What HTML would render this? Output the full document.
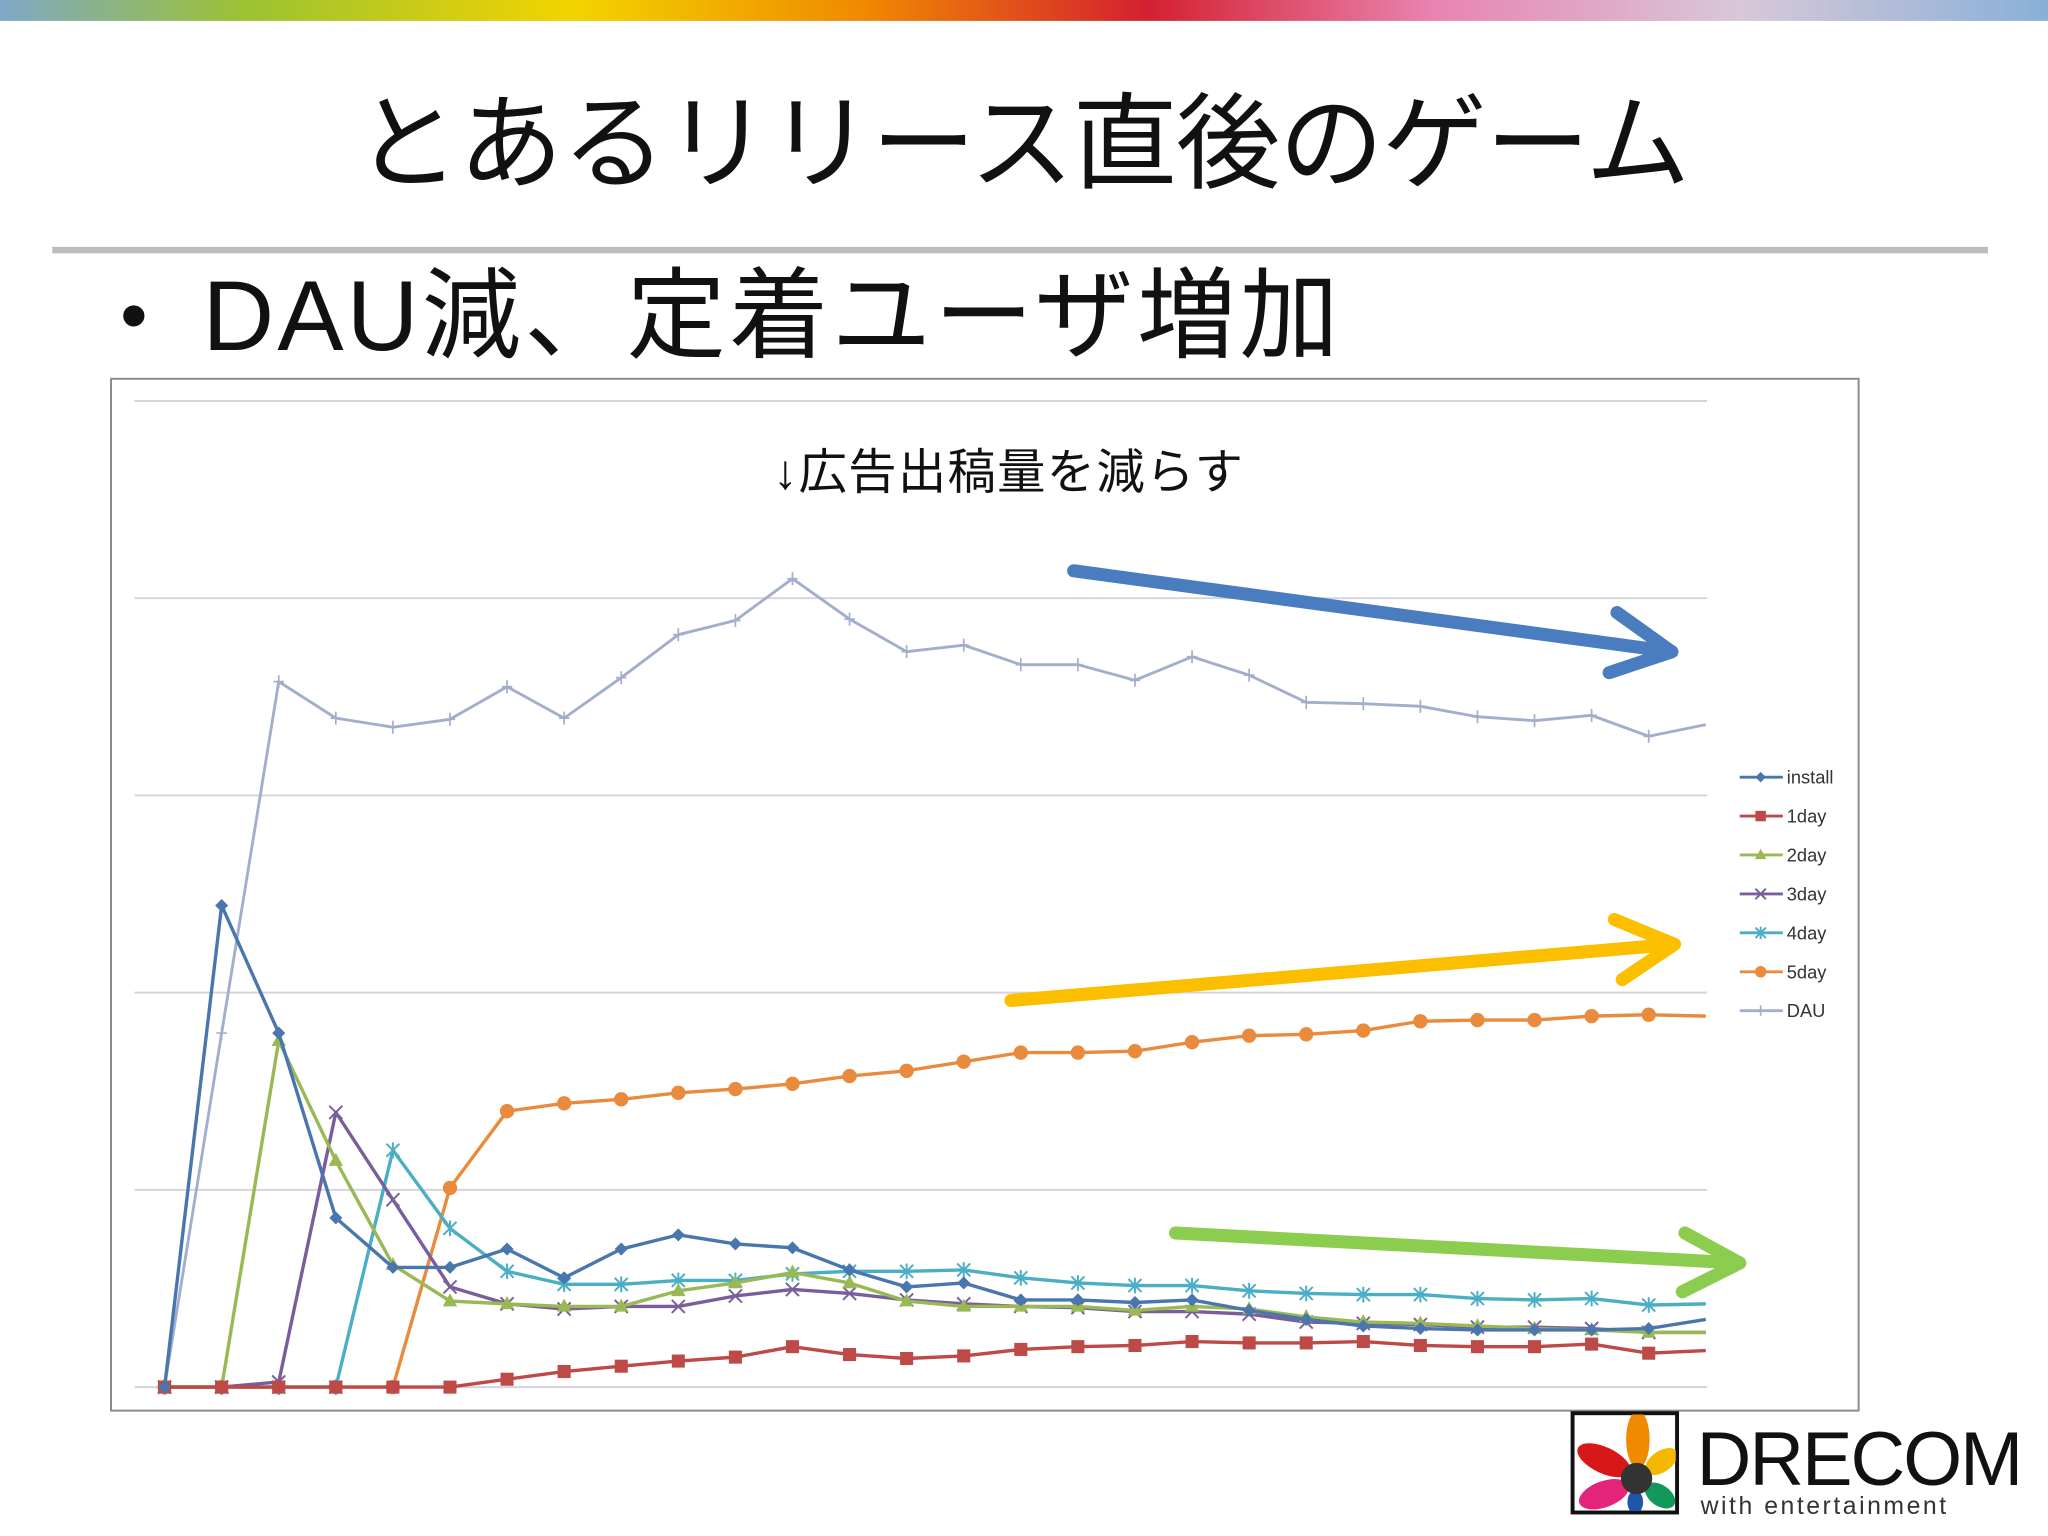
<!DOCTYPE html>
<html><head><meta charset="utf-8">
<style>
html,body{margin:0;padding:0;background:#fff;}
svg{display:block;}
text{font-family:"Liberation Sans","Noto Sans CJK JP",sans-serif;}
</style></head>
<body>
<svg id="slide" width="2048" height="1536" viewBox="0 0 1568 1176" xmlns="http://www.w3.org/2000/svg">
<defs>
<linearGradient id="rb" x1="0" x2="1" y1="0" y2="0">
<stop offset="0" stop-color="#7fa8c8"/><stop offset="0.12" stop-color="#9cc232"/><stop offset="0.28" stop-color="#f2d400"/><stop offset="0.42" stop-color="#f08a00"/><stop offset="0.56" stop-color="#d42030"/><stop offset="0.7" stop-color="#e884b0"/><stop offset="0.85" stop-color="#d8c8d8"/><stop offset="1" stop-color="#88b0d8"/>
</linearGradient>
<clipPath id="logoclip"><rect x="1205" y="1083" width="78" height="74"/></clipPath>
</defs>
<rect x="0" y="0" width="1568" height="16" fill="url(#rb)"/>
<text x="272" y="138" font-size="80" fill="#111" textLength="1022">とあるリリース直後のゲーム</text>
<rect x="40" y="189" width="1482" height="5" fill="#bdbdbd"/>
<text x="92" y="262" font-size="60" fill="#111">•</text>
<text x="155" y="268" font-size="76" fill="#111" textLength="870">DAU減、定着ユーザ増加</text>
<rect x="85" y="290" width="1338" height="790" fill="#fff" stroke="#8a8a8a" stroke-width="1.5"/>
<g id="grid"></g>
<g id="series"></g>
<text x="592" y="374" font-size="37" fill="#111" letter-spacing="1">↓広告出稿量を減らす</text>
<g id="legend"></g>
<g stroke="#4a7cc0" stroke-width="10" stroke-linecap="round" fill="none">
<line x1="822" y1="437" x2="1280" y2="499"/><polyline points="1238,469 1280,499 1232,515" stroke-linejoin="round"/></g>
<g stroke="#fbbf00" stroke-width="10" stroke-linecap="round" fill="none">
<line x1="774" y1="766" x2="1282" y2="723"/><polyline points="1236,704 1282,723 1242,750" stroke-linejoin="round"/></g>
<g stroke="#8ccc4e" stroke-width="10" stroke-linecap="round" fill="none">
<line x1="900" y1="944" x2="1332" y2="967"/><polyline points="1290,944 1332,967 1288,989" stroke-linejoin="round"/></g>
<g>
<rect x="1204" y="1082" width="80" height="76" fill="#fff" stroke="#111" stroke-width="3"/>
<g clip-path="url(#logoclip)">
<ellipse cx="1254" cy="1102" rx="9" ry="22" fill="#f08a00"/>
<ellipse cx="1228" cy="1118" rx="22" ry="10" fill="#d81818" transform="rotate(25 1228 1118)"/>
<ellipse cx="1272" cy="1119" rx="14" ry="8" fill="#f5b800" transform="rotate(-35 1272 1119)"/>
<ellipse cx="1228" cy="1144" rx="20" ry="10" fill="#e4237a" transform="rotate(-20 1228 1144)"/>
<ellipse cx="1271" cy="1145" rx="13" ry="8" fill="#12995a" transform="rotate(35 1271 1145)"/>
<ellipse cx="1252" cy="1150" rx="6" ry="9" fill="#1f56a8"/>
<circle cx="1253" cy="1132" r="12" fill="#333"/>
</g>
<text x="1299" y="1137" font-size="58" fill="#111" textLength="250">DRECOM</text>
<text x="1302" y="1159" font-size="19" fill="#333" textLength="188">with entertainment</text>
</g>
</svg>
<script>
const categories=[1,2,3,4,5,6,7,8,9,10,11,12,13,14,15,16,17,18,19,20,21,22,23,24,25,26,27,28];
const yTicks=[0,1000,2000,3000,4000,5000];
const install=[0,2442,1795,858,607,607,700,554,700,772,726,706,594,508,528,442,442,429,442,389,343,310,297,290,290,290,297,343];
const day1=[0,0,0,0,0,0,40,79,106,132,152,205,165,145,158,191,205,211,231,224,224,231,211,205,205,218,172,185];
const day2=[0,0,1756,1148,620,436,422,409,409,488,528,581,528,436,409,409,409,389,409,396,356,330,323,310,297,290,277,277];
const day3=[0,0,26,1393,950,508,422,396,409,409,462,495,475,442,422,409,403,383,383,370,330,323,317,304,304,297,277,277];
const day4=[0,0,0,0,1201,805,587,521,521,541,541,574,587,587,594,554,528,515,515,488,475,469,469,449,442,449,416,422];
const day5=[0,0,0,0,0,1010,1399,1439,1459,1492,1511,1538,1577,1604,1650,1696,1696,1703,1749,1782,1789,1808,1855,1861,1861,1881,1888,1881];
const dau=[0,1795,3577,3392,3346,3386,3551,3392,3597,3815,3887,4099,3894,3729,3762,3663,3663,3584,3703,3610,3472,3465,3452,3399,3379,3406,3300,3359];
const seriesNames=["install","1day","2day","3day","4day","5day","DAU"];
const NS="http://www.w3.org/2000/svg";
const X0=126,X1=1306,Y0=1062,Y1=307,VMAX=5000;
function xs(i){return X0+(X1-X0)*i/(categories.length-1);}
function ys(v){return Y0-(Y0-Y1)*v/VMAX;}
function mk(tag,attrs,parent){const e=document.createElementNS(NS,tag);for(const k in attrs)e.setAttribute(k,attrs[k]);parent.appendChild(e);return e;}
const grid=document.getElementById('grid');
yTicks.forEach(t=>{
  const l=mk('line',{x1:103,x2:1307,y1:ys(t),y2:ys(t),stroke:'#d4d4dc','stroke-width':1.5},grid);
  
  
});
const defs=[
 {name:'install',data:install,color:'#4a76ae',m:'diamond'},
 {name:'1day',data:day1,color:'#be4a47',m:'square'},
 {name:'2day',data:day2,color:'#98b954',m:'triangle'},
 {name:'3day',data:day3,color:'#7a5e9c',m:'x'},
 {name:'4day',data:day4,color:'#4aaec4',m:'star'},
 {name:'5day',data:day5,color:'#ea8a3c',m:'circle'},
 {name:'DAU',data:dau,color:'#a2aecb',m:'plus'}
];
function marker(g,m,x,y,c,s){
  s=s||1;
  if(m==='diamond')return mk('polygon',{points:`${x},${y-5*s} ${x+5*s},${y} ${x},${y+5*s} ${x-5*s},${y}`,fill:c},g);
  if(m==='square')return mk('rect',{x:x-5*s,y:y-5*s,width:10*s,height:10*s,fill:c},g);
  if(m==='triangle')return mk('polygon',{points:`${x},${y-6*s} ${x+5.5*s},${y+4*s} ${x-5.5*s},${y+4*s}`,fill:c},g);
  if(m==='circle')return mk('circle',{cx:x,cy:y,r:5.5*s,fill:c},g);
  if(m==='x')return mk('path',{d:`M${x-5*s} ${y-5*s}L${x+5*s} ${y+5*s}M${x+5*s} ${y-5*s}L${x-5*s} ${y+5*s}`,stroke:c,'stroke-width':1.5},g);
  if(m==='star')return mk('path',{d:`M${x-5*s} ${y-5*s}L${x+5*s} ${y+5*s}M${x+5*s} ${y-5*s}L${x-5*s} ${y+5*s}M${x} ${y-6*s}L${x} ${y+6*s}`,stroke:c,'stroke-width':1.5},g);
  return mk('path',{d:`M${x-4*s} ${y}L${x+4*s} ${y}M${x} ${y-5*s}L${x} ${y+5*s}`,stroke:c,'stroke-width':1.3},g);
}
const sg=document.getElementById('series');
defs.slice().reverse().forEach(d=>{
  const g=mk('g',{},sg);
  
  
  const pts=d.data.map((v,i)=>xs(i)+','+ys(v)).join(' ');
  const pl=mk('polyline',{points:pts,fill:'none',stroke:d.color,'stroke-width':d.name==='DAU'?2.2:2.6,'stroke-linejoin':'round'},g);
  
  
  d.data.forEach((v,i)=>{
    if(i===d.data.length-1)return;
    const p=marker(g,d.m,xs(i),ys(v),d.color);
    
    
  });
});
const lg=document.getElementById('legend');
defs.forEach((d,i)=>{
  const y=595+i*29.8;
  const g=mk('g',{},lg);
  
  
  mk('line',{x1:1332,x2:1365,y1:y,y2:y,stroke:d.color,'stroke-width':2.2},g);
  marker(g,d.m,1348,y,d.color,0.8);
  const t=mk('text',{x:1368,y:y+5,'font-size':14,fill:'#333'},g);
  t.textContent=seriesNames[i];
});
</script>
</body></html>
